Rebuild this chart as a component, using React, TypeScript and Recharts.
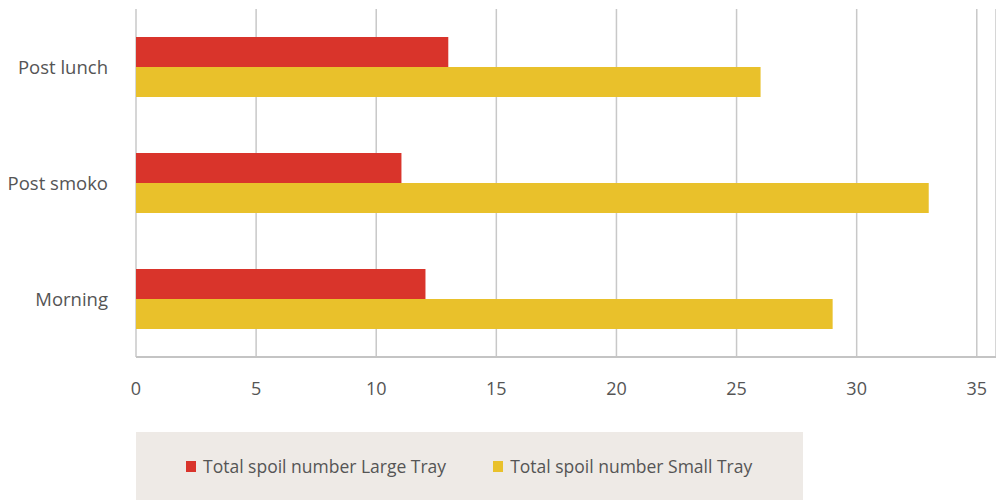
import { BarChart, Bar, XAxis, YAxis, CartesianGrid, Legend } from 'recharts';

const periods = ['Post lunch', 'Post smoko', 'Morning'];
const largeTray = [13, 11.05, 12.05];
const smallTray = [26, 33, 29];
const xTicks = [0, 5, 10, 15, 20, 25, 30, 35];

const seriesInfo = [
  { key: 'large', name: 'Total spoil number Large Tray', color: '#d9342b' },
  { key: 'small', name: 'Total spoil number Small Tray', color: '#e9c12b' },
];

const data = periods.map((p, i) => ({ period: p, large: largeTray[i], small: smallTray[i] }));

const font = '"Open Sans", sans-serif';

function LegendBox() {
  return (
    <div style={{
      display: 'flex', alignItems: 'center', height: 68, background: '#eeeae6',
      paddingLeft: 50, boxSizing: 'border-box', fontFamily: font, fontSize: 17.5, color: '#555',
    }}>
      {seriesInfo.map((s, i) => (
        <div key={s.key} style={{ display: 'flex', alignItems: 'center', marginRight: i === 0 ? 47 : 0 }}>
          <span style={{ display: 'inline-block', width: 10, height: 11, background: s.color, marginRight: 7 }} />
          <span>{s.name}</span>
        </div>
      ))}
    </div>
  );
}

export default function App() {
  return (
    <div style={{ position: 'absolute', left: 0, top: 0, width: 996, height: 500, background: '#fff' }}>
      <BarChart
        width={996}
        height={500}
        data={data}
        layout="vertical"
        margin={{ top: 9, right: 0, bottom: 45, left: 0 }}
        barGap={0}
      >
        <CartesianGrid horizontal={false} stroke="#c8c8c8" strokeWidth={1.5} />
        <XAxis
          type="number"
          domain={[0, 35.8]}
          ticks={xTicks}
          allowDataOverflow
          height={30}
          tickLine={false}
          tickMargin={19}
          axisLine={{ stroke: '#c4c4c4', strokeWidth: 2 }}
          tick={{ fill: '#555', fontSize: 18, fontFamily: font }}
        />
        <YAxis
          type="category"
          dataKey="period"
          width={136}
          tickLine={false}
          axisLine={false}
          tickMargin={22}
          tick={{ fill: '#555', fontSize: 18.5, fontFamily: font }}
        />
        <Legend
          verticalAlign="bottom"
          content={() => <LegendBox />}
          wrapperStyle={{ top: 432, left: 136, bottom: 'auto', width: 667, height: 68 }}
        />
        {seriesInfo.map(s => (
          <Bar key={s.key} dataKey={s.key} name={s.name} fill={s.color} barSize={30} isAnimationActive={false} />
        ))}
      </BarChart>
    </div>
  );
}
